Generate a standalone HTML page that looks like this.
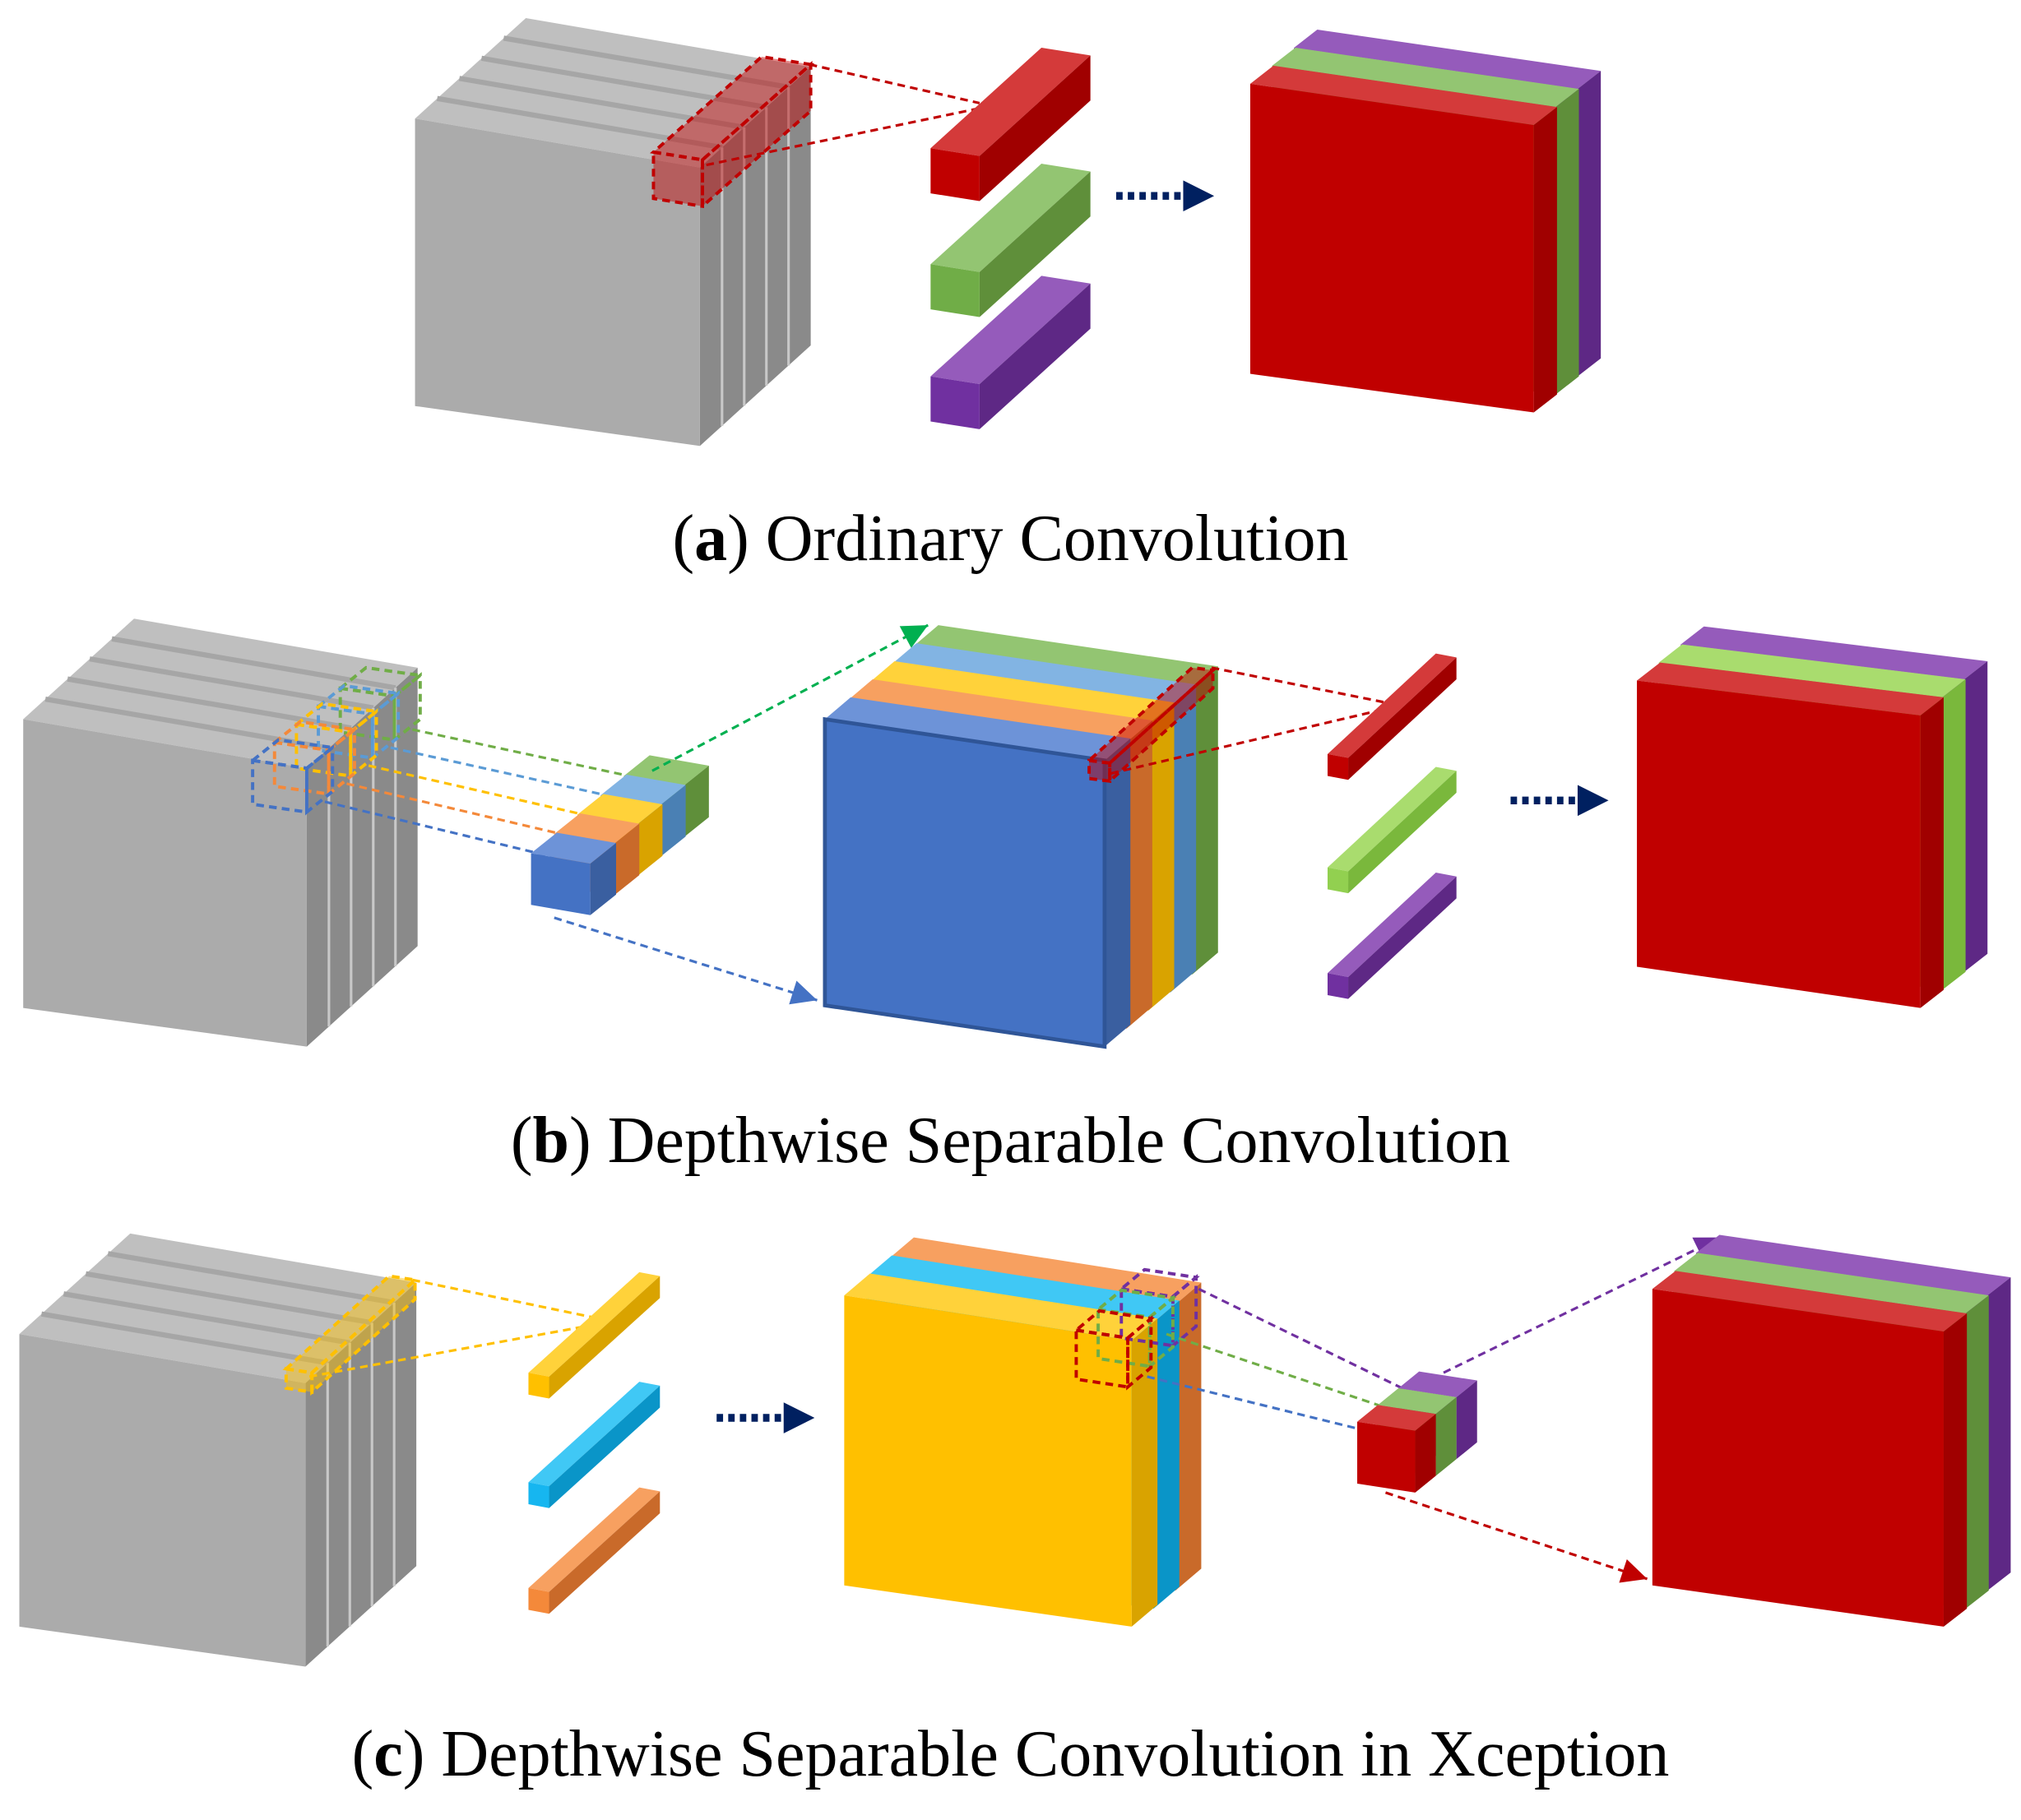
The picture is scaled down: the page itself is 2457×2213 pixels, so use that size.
<!DOCTYPE html>
<html><head><meta charset="utf-8"><style>
html,body{margin:0;padding:0;background:#fff;width:2457px;height:2213px;overflow:hidden;position:relative}
svg{position:absolute;left:0;top:0}
.cap{position:absolute;left:0;width:2457px;text-align:center;font-family:"Liberation Serif",serif;font-size:80px;color:#000;white-space:nowrap;line-height:1}
</style></head><body>
<svg id="s" width="2457" height="2213" viewBox="0 0 1568 1412" preserveAspectRatio="none" xmlns="http://www.w3.org/2000/svg"></svg>
<div class="cap" style="top:615px">(<b>a</b>) Ordinary Convolution</div>
<div class="cap" style="top:1347px">(<b>b</b>) Depthwise Separable Convolution</div>
<div class="cap" style="top:2093px">(<b>c</b>) Depthwise Separable Convolution in Xception</div>
<script>
var S=document.getElementById('s');var out='';
var C={
red:['#c00000','#d43a3a','#a00000'],green:['#70ad47','#93c572','#5f8f3a'],
purple:['#7030a0','#955bbb','#5e2885'],lg:['#92d050','#a9dc6e','#7ab83c'],
blue:['#4472c4','#6d93d8','#3a5fa0'],orange:['#f4893a','#f7a060','#c96a2a'],
yellow:['#ffc000','#ffd23a','#d9a300'],lb:['#5b9bd5','#82b4e3','#4a80b4'],
cyan:['#16b6f0','#40c8f5','#0a95c8'],gray:['#ababab','#bfbfbf','#8a8a8a']};
function P(a){return a.map(function(p){return p[0].toFixed(1)+','+p[1].toFixed(1)}).join(' ')}
function poly(pts,fill,extra){out+='<polygon points="'+P(pts)+'" fill="'+fill+'" '+(extra||'')+'/>';}
// box: front TL x,y ; w ; h ; slant (top edge dy over w) ; bottom slant ; depth d
function box(x,y,w,h,s1,s2,dx,dy,col,stroke){
 var TL=[x,y],TR=[x+w,y+s1],BR=[x+w,y+h+s2],BL=[x,y+h];
 var st=stroke?'stroke="'+stroke+'" stroke-width="2"':'';
 poly([TL,TR,[TR[0]+dx,TR[1]+dy],[TL[0]+dx,TL[1]+dy]],col[1],st);
 poly([TR,[TR[0]+dx,TR[1]+dy],[BR[0]+dx,BR[1]+dy],BR],col[2],st);
 poly([TL,TR,BR,BL],col[0],st);
}
function gray(x,y,w,h,s1,s2,dx,dy){
 box(x,y,w,h,s1,s2,dx,dy,C.gray);
 for(var i=1;i<5;i++){var f=i/5,ox=dx*f,oy=dy*f;
  out+='<line x1="'+(x+ox)+'" y1="'+(y+oy)+'" x2="'+(x+w+ox)+'" y2="'+(y+s1+oy)+'" stroke="#a6a6a6" stroke-width="4"/>';
  out+='<line x1="'+(x+w+ox)+'" y1="'+(y+s1+oy)+'" x2="'+(x+w+ox)+'" y2="'+(y+h+s2+oy)+'" stroke="#c8c8c8" stroke-width="2"/>';}
}
function stack(x,y,w,h,s1,s2,dx,dy,cols,sx,sy,stroke){
 for(var i=cols.length-1;i>=0;i--)box(x+sx*i,y+sy*i,w,h,s1,s2,dx,dy,C[cols[i]],stroke);
}
function dline(x1,y1,x2,y2,c){out+='<line x1="'+x1+'" y1="'+y1+'" x2="'+x2+'" y2="'+y2+'" stroke="'+c+'" stroke-width="2" stroke-dasharray="6,4"/>';}
function head(x,y,ang,c,L){L=L||22;var a=ang*Math.PI/180,b=0.45;
 var p1=[x-L*Math.cos(a-b),y-L*Math.sin(a-b)],p2=[x-L*Math.cos(a+b),y-L*Math.sin(a+b)];poly([[x,y],p1,p2],c);}
function arrow(x1,y1,x2,y2,c){dline(x1,y1,x2,y2,c);head(x2,y2,Math.atan2(y2-y1,x2-x1)*180/Math.PI,c);}
function bigArrow(x,y){out+='<line x1="'+x+'" y1="'+y+'" x2="'+(x+52)+'" y2="'+y+'" stroke="#002060" stroke-width="6" stroke-dasharray="5,4"/>';poly([[x+52,y-12],[x+76,y],[x+52,y+12]],'#002060');}
function sel(x,y,w,h,s1,dx,dy,c,fill){
 var TL=[x,y],TR=[x+w,y+s1],BR=[x+w,y+h+s1],BL=[x,y+h];
 var st='stroke="'+c+'" stroke-width="2.5" stroke-dasharray="6,4" fill-opacity="'+(fill?0.45:0)+'"';
 var f=fill||'none';
 poly([TL,TR,[TR[0]+dx,TR[1]+dy],[TL[0]+dx,TL[1]+dy]],f,st);
 poly([TR,[TR[0]+dx,TR[1]+dy],[BR[0]+dx,BR[1]+dy],BR],f,st);
 poly([TL,TR,BR,BL],f,st);
}
// ===== Panel a =====
gray(322,92,221,223,38,31,86,-78);
sel(507,118,38,36,6,84,-74,'#c00000','#c00000');
dline(628,50,760,80,'#c00000');dline(548,128,760,84,'#c00000');
box(722,115,38,35,6,6,86,-78,C.red);
box(722,205,38,35,6,6,86,-78,C.green);
box(722,292,38,35,6,6,86,-78,C.purple);
bigArrow(866,152);
stack(970,65,220,225,32,30,18,-14,['red','green','purple'],17,-14);
// ===== Panel b =====
gray(18,558,220,224,38,30,86,-78);
var sc=['blue','orange','yellow','lb','green'],scc=['#4472c4','#f4893a','#ffc000','#5b9bd5','#70ad47'];
for(var i=4;i>=0;i--){sel(196+17*i,590-14*i,42,34,6,20,-16,scc[i]);}
for(var i=4;i>=0;i--){dline(252+17*i,622-14*i,430+18*i,665-15*i,scc[i]);}
stack(412,662,46,40,8,8,20,-16,sc,18,-15);
arrow(506,598,720,485,'#00b050');
arrow(430,712,634,776,'#4472c4');
stack(640,558,217,222,32,32,20,-17,sc,17,-14,null);
out+='<polygon points="640,558 857,590 857,812 640,780" fill="none" stroke="#2f5597" stroke-width="3"/>';
sel(845,590,16,14,2,80,-72,'#c00000','#c00000');
dline(940,518,1075,545,'#c00000');dline(862,600,1075,550,'#c00000');
box(1030,585,16,17,3,3,84,-78,C.red);
box(1030,673,16,17,3,3,84,-78,C.lg);
box(1030,755,16,17,3,3,84,-78,C.purple);
bigArrow(1172,621);
stack(1270,528,220,222,27,32,18,-14,['red','lg','purple'],17,-14);
// ===== Panel c =====
gray(15,1035,222,227,38,31,86,-78);
sel(222,1062,20,15,3,80,-72,'#ffc000','#ffc000');
dline(320,993,460,1022,'#ffc000');dline(240,1068,460,1028,'#ffc000');
box(410,1065,16,17,3,3,86,-78,C.yellow);
box(410,1150,16,17,3,3,86,-78,C.cyan);
box(410,1232,16,17,3,3,86,-78,C.orange);
bigArrow(556,1100);
stack(655,1005,223,225,35,32,20,-17,['yellow','cyan','orange'],17,-14);
sel(870,1000,40,38,6,18,-15,'#7030a0');
sel(852,1016,40,38,6,18,-15,'#70ad47');
sel(835,1032,40,38,6,18,-15,'#c00000');
dline(930,1000,1090,1078,'#7030a0');dline(905,1035,1075,1092,'#70ad47');dline(890,1068,1060,1110,'#4472c4');
stack(1053,1103,45,48,7,7,16,-13,['red','green','purple'],16,-13);
arrow(1120,1065,1335,960,'#7030a0');
arrow(1075,1158,1278,1225,'#c00000');
stack(1282,1000,226,230,33,32,18,-14,['red','green','purple'],17,-14);
S.innerHTML=out;
</script>
</body></html>
